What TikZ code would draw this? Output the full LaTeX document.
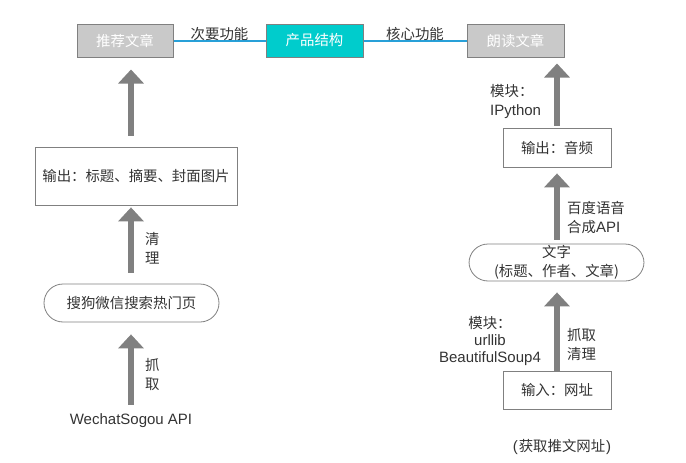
\documentclass[tikz,border=0pt]{standalone}
\usepackage{fontspec}
\setmainfont{Liberation Sans}
\newfontfamily\cjk[Scale=0.96]{Noto Sans CJK SC}
\usetikzlibrary{arrows.meta}

\definecolor{boxgray}{RGB}{201,201,201}
\definecolor{edgegray}{RGB}{128,128,128}
\definecolor{coreteal}{RGB}{0,204,204}
\definecolor{linkblue}{RGB}{40,160,216}
\definecolor{txt}{RGB}{51,51,51}

\tikzstyle{topbox}=[draw=edgegray,line width=1pt,fill=boxgray,text=white,minimum width=96pt,minimum height=33pt,inner sep=0pt,font=\fontsize{15}{19}\selectfont\cjk]
\tikzstyle{plainbox}=[draw=edgegray,line width=0.8pt,text=txt,inner sep=0pt,font=\fontsize{15}{19}\selectfont\cjk]
\tikzstyle{pill}=[draw=edgegray,line width=0.8pt,text=txt,rounded corners=19pt,inner sep=0pt,align=center,font=\fontsize{15}{19}\selectfont\cjk]
\tikzstyle{link}=[draw=linkblue,line width=2pt]
\tikzstyle{bigarrow}=[draw=edgegray,line width=6pt,-{Triangle[width=25pt,length=14pt]}]
\tikzstyle{note}=[text=txt,font=\fontsize{15}{19}\selectfont,inner sep=0pt]

\begin{document}
\begin{tikzpicture}[x=1pt,y=-1pt]
    \useasboundingbox (0,0) rectangle (686,463);
    % top row
    \node[topbox] (rec) at (125,40.5) {推荐文章};
    \node[topbox,fill=coreteal,minimum width=97pt] (core) at (314.5,40.5) {产品结构};
    \node[topbox,minimum width=97pt] (read) at (515.5,40.5) {朗读文章};
    \path[link] (rec) -- node[note,above=0pt,yshift=-1.5pt] {\cjk 次要功能} (core);
    \path[link] (core) -- node[note,above=0pt,yshift=-1.5pt] {\cjk 核心功能} (read);

    % left column
    \node[plainbox,minimum width=202pt,minimum height=58pt] (outl) at (136,176) {输出：标题、摘要、封面图片};
    \node[pill,minimum width=175pt,minimum height=38pt] (sogou) at (131.5,303) {搜狗微信搜索热门页};
    \node[note] (api) at (131,421) {WechatSogou API};

    % right column
    \node[plainbox,minimum width=108pt,minimum height=39pt] (audio) at (557,147.5) {输出：音频};
    \node[pill,minimum width=175pt,minimum height=37pt] (text) at (556.5,262.5) {文字\\(标题、作者、文章)};
    \node[plainbox,minimum width=108pt,minimum height=38pt] (url) at (557,390) {输入：网址};
    \node[note] (fetch) at (562,447) {(\kern1pt{\cjk 获取推文网址}\kern1pt)};

    % thick arrows between the steps, one column per side
    \coordinate (lcol) at (131,0);
    \coordinate (rcol) at (557,0);
    \foreach \col/\source/\dest/\sa/\sb in {lcol/outl/rec/11/12, lcol/sogou/outl/11/2, lcol/api/sogou/9/12,
                                            rcol/audio/read/2/6, rcol/text/audio/4/6, rcol/url/text/0/11}
        \path[bigarrow,shorten <=\sa pt,shorten >=\sb pt] (\col |- \source.north) -- (\col |- \dest.south);

    % labels beside the arrows
    \node[note,align=left,anchor=west] (lclean) at (145,248.5) {\cjk 清\\\cjk 理};
    \node[note,align=left,anchor=west] (lgrab) at (145,375) {\cjk 抓\\\cjk 取};
    \node[note,align=left,anchor=west] (ipy) at (490,101.5) {\cjk 模块：\\IPython};
    \node[note,align=left,anchor=west] (tts) at (567,217.5) {\cjk 百度语音\\{\cjk 合成}API};
    \node[note,align=left,anchor=west] (rgrab) at (567,345) {\cjk 抓取\\\cjk 清理};
    \node[note,align=center,font=\fontsize{15}{17}\selectfont] (mods) at (490,341) {\cjk 模块：\\urllib\\BeautifulSoup4};
\end{tikzpicture}
\end{document}
